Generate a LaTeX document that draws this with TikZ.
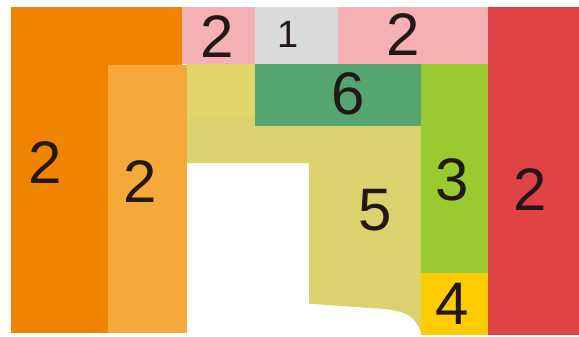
\documentclass[tikz,border=0pt]{standalone}
\usepackage{fontspec}
\setmainfont{Liberation Sans}
\definecolor{dorange}{RGB}{240,131,0}
\definecolor{lorange}{RGB}{244,169,58}
\definecolor{pinkc}{RGB}{244,176,179}
\definecolor{grayc}{RGB}{218,218,218}
\definecolor{redc}{RGB}{224,67,69}
\definecolor{dgreen}{RGB}{85,165,112}
\definecolor{lgreen}{RGB}{155,201,48}
\definecolor{yellowc}{RGB}{253,203,0}
\definecolor{khaki}{RGB}{219,210,110}
\definecolor{khakib}{RGB}{223,213,105}
\definecolor{txt}{RGB}{35,24,21}
\begin{document}
\begin{tikzpicture}[x=1pt,y=-1pt,
  big/.style={text=txt,font=\fontsize{60}{60}\selectfont,inner sep=0pt},
  small/.style={text=txt,font=\fontsize{38}{38}\selectfont,inner sep=0pt}]
\useasboundingbox (0,0) rectangle (579,337);
\fill[white] (0,0) rectangle (579,337);
% orange blocks
\fill[dorange] (11,7) rectangle (182,333);
\fill[lorange] (108,65) rectangle (187,333);
% top strip
\fill[pinkc] (182,7) rectangle (255,64);
\fill[grayc] (255,7) rectangle (338,64);
\fill[pinkc] (338,7) rectangle (488,64);
% red
\fill[redc] (488,7) rectangle (579,335);
% khaki area 5
\fill[khaki] (187,64) -- (421,64) -- (421,332)
  .. controls (415,318) and (410,312) .. (385,309)
  -- (313,304) .. controls (309,304) .. (309,300)
  -- (309,163) -- (187,163) -- cycle;
\fill[khakib] (187,64) rectangle (255,118);
% green 6
\fill[dgreen] (255,64) rectangle (421,126);
% green 3 and yellow 4
\fill[lgreen] (421,64) rectangle (488,273);
\fill[yellowc] (421,273) rectangle (488,335);
% labels
\node[big] (la) at (45,163) {2};
\node[big] (lb) at (140,182) {2};
\node[big] (lc) at (217,37) {2};
\node[small] (ld) at (288,34) {1};
\node[big] (le) at (403,35) {2};
\node[big] (lf) at (348,94) {6};
\node[big] (lg) at (452,180) {3};
\node[big] (lh) at (530,190) {2};
\node[big] (li) at (375,210) {5};
\node[big] (lj) at (452,304) {4};
\end{tikzpicture}
\end{document}
